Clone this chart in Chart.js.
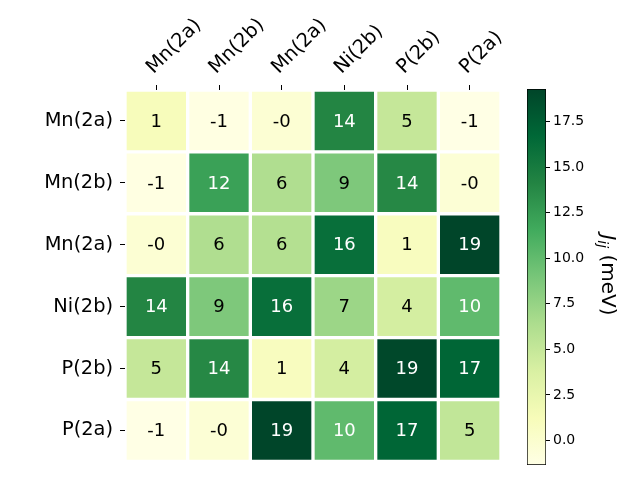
<!DOCTYPE html>
<html>
<head>
<meta charset="utf-8">
<script src="https://cdn.jsdelivr.net/npm/chart.js@4/dist/chart.umd.min.js"></script>
<style>
  html, body { margin: 0; padding: 0; background: #fff; }
  #wrap { position: relative; width: 640px; height: 480px; }
  #wrap canvas { position: absolute; left: 0; top: 0; }
</style>
</head>
<body>
<div id="wrap">
  <canvas id="heat" width="640" height="480"></canvas>
  <canvas id="cbar" width="640" height="480"></canvas>
</div>
<script>
// Heatmap J_ij: baris & kolom = situs atom, nilai dalam meV.
const rowLabels = ['Mn(2a)', 'Mn(2b)', 'Mn(2a)', 'Ni(2b)', 'P(2b)', 'P(2a)'];
const colLabels = ['Mn(2a)', 'Mn(2b)', 'Mn(2a)', 'Ni(2b)', 'P(2b)', 'P(2a)'];
const jMn2a = [1.1, -1.2, -0.3, 14.1, 5.0, -1.35];
const jMn2b = [-1.2, 12.2, 6.2, 8.7, 13.9, -0.4];
const jMn2a2 = [-0.3, 6.2, 6.0, 16.1, 0.9, 19.3];
const jNi2b = [14.1, 8.7, 16.1, 7.2, 4.1, 10.1];
const jP2b = [5.0, 13.9, 0.9, 4.1, 19.1, 16.9];
const jP2a = [-1.35, -0.4, 19.3, 10.1, 16.9, 5.2];
const cbTicks = [0, 2.5, 5, 7.5, 10, 12.5, 15, 17.5];

const matrix = [jMn2a, jMn2b, jMn2a2, jNi2b, jP2b, jP2a];
const vmin = Math.min(...matrix.flat());
const vmax = Math.max(...matrix.flat());

// YlGn (matplotlib)
const ylgn = ['#ffffe5', '#f7fcb9', '#d9f0a3', '#addd8e', '#78c679', '#41ab5d', '#238443', '#006837', '#004529'];
const FONT = '"DejaVu Sans", sans-serif';

function hexRgb(h) {
  return [parseInt(h.slice(1, 3), 16), parseInt(h.slice(3, 5), 16), parseInt(h.slice(5, 7), 16)];
}
function norm(v) { return (v - vmin) / (vmax - vmin); }
function cmap(t) {
  t = Math.max(0, Math.min(1, t));
  const n = ylgn.length - 1, p = t * n;
  const i = Math.min(Math.floor(p), n - 1), f = p - i;
  const a = hexRgb(ylgn[i]), b = hexRgb(ylgn[i + 1]);
  const c = a.map((x, k) => Math.round(x + (b[k] - x) * f));
  return `rgb(${c[0]}, ${c[1]}, ${c[2]})`;
}

// angka di tengah tiap sel
const cellText = {
  id: 'cellText',
  afterDatasetsDraw(chart) {
    const ctx = chart.ctx;
    ctx.save();
    ctx.font = '18px ' + FONT;
    ctx.textAlign = 'center';
    ctx.textBaseline = 'middle';
    matrix.forEach((row, r) => {
      chart.getDatasetMeta(r).data.forEach((bar, c) => {
        const v = row[c];
        ctx.fillStyle = norm(v) > 0.5 ? '#fff' : '#000';
        ctx.fillText(v.toFixed(0), bar.x, (bar.y + bar.base) / 2 + 1);
      });
    });
    ctx.restore();
  },
};

new Chart(document.getElementById('heat').getContext('2d'), {
  type: 'bar',
  data: {
    labels: colLabels,
    datasets: matrix.map((row, r) => ({
      label: rowLabels[r],
      data: row.map(() => [r - 0.5, r + 0.5]),
      backgroundColor: row.map((v) => cmap(norm(v))),
      borderColor: '#fff', borderWidth: 2, borderSkipped: false,
      barPercentage: 1, categoryPercentage: 1, grouped: false,
    })),
  },
  options: {
    responsive: false, animation: false, devicePixelRatio: 1,
    layout: { padding: { left: 0, top: 0, right: 139, bottom: 15 } },
    plugins: { legend: { display: false }, tooltip: { enabled: false } },
    scales: {
      x: {
        type: 'category', position: 'top', offset: true,
        afterFit: (s) => { s.height = 90; },
        grid: { offset: false, drawOnChartArea: false, tickLength: 5, color: '#000' },
        border: { display: false },
        ticks: { minRotation: 45, maxRotation: 45, autoSkip: false, padding: 6, labelOffset: 10, color: '#000', font: { family: FONT, size: 19.4 } },
      },
      y: {
        type: 'linear', min: -0.5, max: 5.5, reverse: true,
        afterFit: (s) => { s.width = 125; },
        afterBuildTicks: (s) => { s.ticks = rowLabels.map((_, i) => ({ value: i })); },
        grid: { drawOnChartArea: false, tickLength: 5, color: '#000' },
        border: { display: false },
        ticks: { callback: (v) => rowLabels[v], padding: 7, color: '#000', font: { family: FONT, size: 19.4 } },
      },
    },
  },
  plugins: [cellText],
});

// judul colorbar: J_ij (meV), diputar 90°
const cbTitle = {
  id: 'cbTitle',
  afterDraw(chart) {
    const ctx = chart.ctx;
    ctx.save();
    ctx.translate(602, 275);
    ctx.rotate(Math.PI / 2);
    ctx.fillStyle = '#000';
    ctx.textBaseline = 'alphabetic';
    ctx.font = 'italic 20px ' + FONT;
    const wJ = ctx.measureText('J').width;
    ctx.font = 'italic 14px ' + FONT;
    const wS = ctx.measureText('ij').width;
    ctx.font = '20px ' + FONT;
    const wR = ctx.measureText(' (meV)').width;
    let x = -(wJ + wS + wR) / 2;
    ctx.font = 'italic 20px ' + FONT;
    ctx.fillText('J', x, 0); x += wJ;
    ctx.font = 'italic 14px ' + FONT;
    ctx.fillText('ij', x, 4); x += wS;
    ctx.font = '20px ' + FONT;
    ctx.fillText(' (meV)', x, 0);
    ctx.restore();
  },
};

new Chart(document.getElementById('cbar').getContext('2d'), {
  type: 'bar',
  data: {
    labels: [''],
    datasets: [{
      data: [[vmin, vmax]],
      backgroundColor: (c) => {
        const { chart } = c;
        const y = chart.scales.y;
        if (!chart.chartArea || !y) return ylgn[4];
        const g = chart.ctx.createLinearGradient(0, y.getPixelForValue(vmin), 0, y.getPixelForValue(vmax));
        ylgn.forEach((col, i) => g.addColorStop(i / (ylgn.length - 1), col));
        return g;
      },
      borderColor: '#000', borderWidth: 1, borderSkipped: false,
      barPercentage: 1, categoryPercentage: 1,
    }],
  },
  options: {
    responsive: false, animation: false, devicePixelRatio: 1,
    layout: { padding: { left: 527, top: 89, right: 44, bottom: 15 } },
    plugins: { legend: { display: false }, tooltip: { enabled: false } },
    scales: {
      x: { display: false, offset: true },
      y: {
        type: 'linear', position: 'right', min: vmin, max: vmax,
        afterFit: (s) => { s.width = 50; },
        afterBuildTicks: (s) => { s.ticks = cbTicks.map((v) => ({ value: v })); },
        grid: { drawOnChartArea: false, tickLength: 4, color: '#000' },
        border: { display: false },
        ticks: { callback: (v) => Number(v).toFixed(1), padding: 3, color: '#000', font: { family: FONT, size: 14 } },
      },
    },
  },
  plugins: [cbTitle],
});
</script>
</body>
</html>
